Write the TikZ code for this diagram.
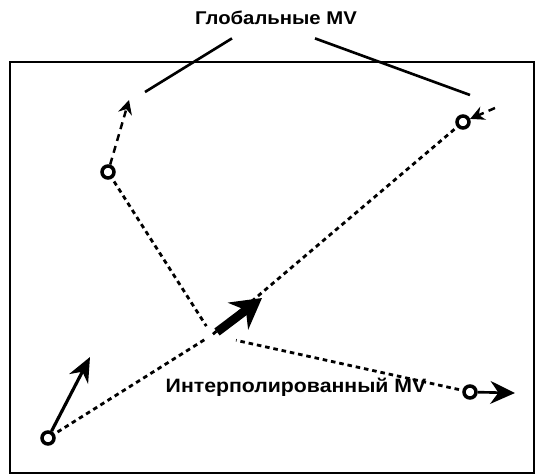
\documentclass[tikz,border=0pt]{standalone}
\usepackage{fontspec}
\setmainfont{Liberation Sans}[FakeStretch=1.1]
\usepackage{tikz}
\usetikzlibrary{arrows.meta, calc}

\begin{document}
\begin{tikzpicture}[scale=1.0, >={Stealth[scale=1.0]}, every node/.style={font=\bfseries\fontsize{11}{13}\selectfont},
  blk/.style={draw, circle, line width=2pt, inner sep=0pt, minimum size=0.24cm},
  dots/.style={line width=1.6pt, dash pattern=on 2.6pt off 2.2pt},
  gmv/.style={-{Stealth[length=8pt, width=8pt]}, line width=1.4pt, dash pattern=on 4pt off 3pt},
  mv/.style={-{Stealth[length=14pt, width=12pt]}, line width=1.8pt},
  lead/.style={line width=1.5pt}]
\useasboundingbox (0,0) rectangle (10.7,9.52);
\draw[line width=1.5pt] (0.2,0.06) rectangle (10.68,8.28);
\node[anchor=base, font=\bfseries\fontsize{10.5}{12}\selectfont] (title) at (5.52,9.02) {Глобальные MV};
\node[anchor=base] (lbl) at (5.92,1.66) {Интерполированный MV};
\node[blk] (gtl) at (2.16,6.08) {};
\node[blk] (gtr) at (9.26,7.08) {};
\node[blk] (mbl) at (0.96,0.76) {};
\node[blk] (mbr) at (9.40,1.68) {};
\coordinate (c) at (4.24,2.82);
\coordinate (gtltip) at (2.58,7.52);
\coordinate (gtrtail) at (9.90,7.36);
\coordinate (mbltip) at (1.80,2.38);
\coordinate (mbrtip) at (10.30,1.66);
\coordinate (ctail) at (4.34,2.88);
\coordinate (ctip) at (5.24,3.56);
\coordinate (la) at (2.90,7.68);
\coordinate (ra) at (9.40,7.62);
\draw[lead] ($(title.south)+(-0.88,-0.14)$) -- (la);
\draw[lead] ($(title.south)+(0.78,-0.14)$) -- (ra);
\draw[dots, shorten <=2pt, shorten >=6pt] (gtl) -- (c);
\draw[dots, shorten <=2pt, shorten >=5pt] (mbl) -- (c);
\draw[dots, shorten <=2pt] (gtr) -- (c);
\draw[dots, shorten <=2pt, shorten >=14pt] (mbr) -- (c);
\draw[gmv] (gtl) -- (gtltip);
\draw[gmv] (gtrtail) -- (gtr);
\draw[mv] (mbl) -- (mbltip);
\draw[mv, -{Stealth[length=14pt, width=13pt]}, line width=1.5pt] (mbr) -- (mbrtip);
\draw[-{Stealth[length=17pt, width=19pt]}, line width=5pt] (ctail) -- (ctip);
\end{tikzpicture}
\end{document}
